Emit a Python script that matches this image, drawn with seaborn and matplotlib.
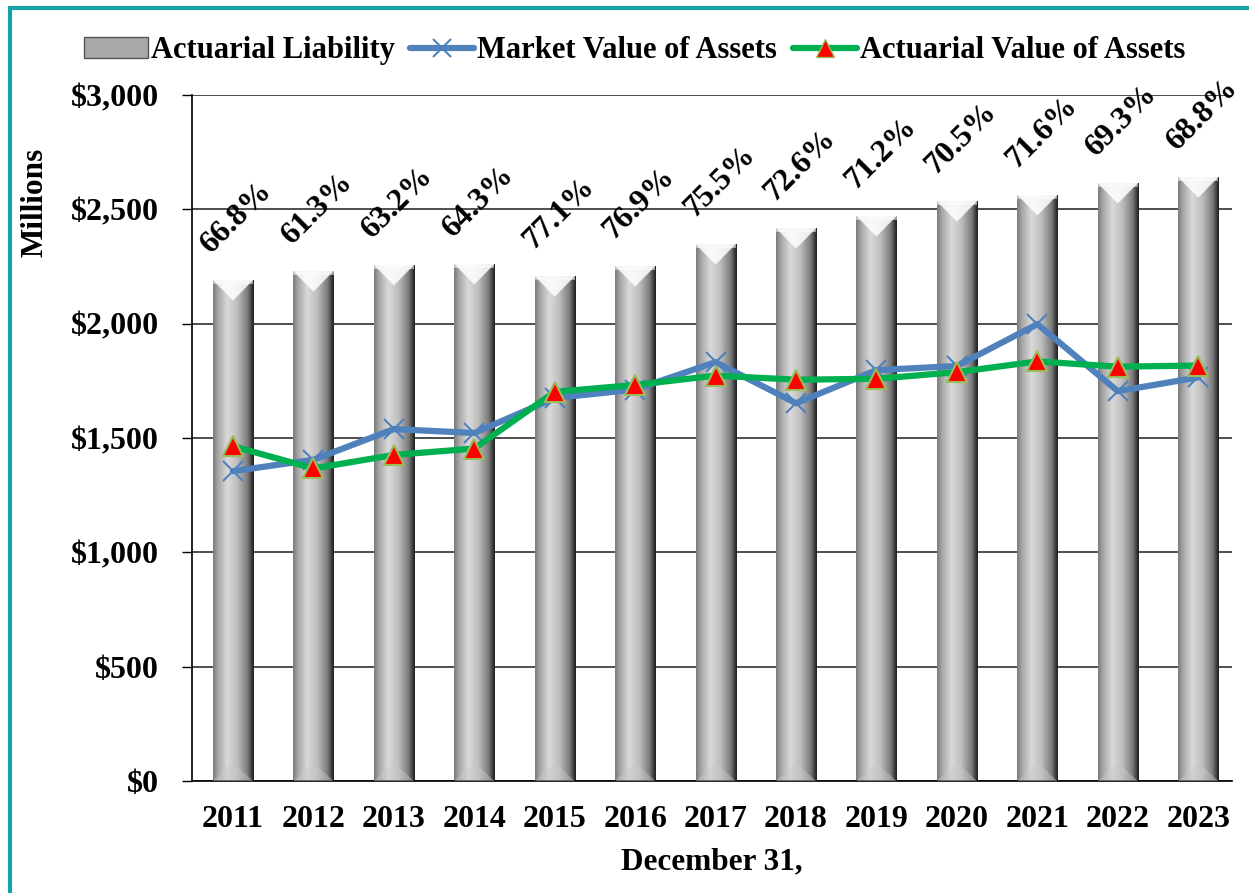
import numpy as np
import matplotlib
matplotlib.use("Agg")
import matplotlib.pyplot as plt
import seaborn as sns
from matplotlib.patches import Rectangle, Polygon
from matplotlib.lines import Line2D
from matplotlib.colors import LinearSegmentedColormap

# Values (millions)
years = ["2011", "2012", "2013", "2014", "2015", "2016", "2017",
         "2018", "2019", "2020", "2021", "2022", "2023"]
liability = [2191, 2230, 2257, 2261, 2208, 2252, 2348,
             2418, 2471, 2536, 2563, 2615, 2641]
market_value = [1355, 1405, 1539, 1522, 1675, 1712, 1832,
                1652, 1797, 1815, 1998, 1705, 1765]
actuarial_value = [1464, 1367, 1426, 1454, 1702, 1732, 1773,
                   1755, 1759, 1788, 1835, 1812, 1817]
funded_ratio = ["66.8%", "61.3%", "63.2%", "64.3%", "77.1%", "76.9%", "75.5%",
                "72.6%", "71.2%", "70.5%", "71.6%", "69.3%", "68.8%"]

sns.set_style("white")
plt.rcParams['font.family'] = ['Liberation Serif', 'DejaVu Serif']
plt.rcParams['font.weight'] = 'bold'
plt.rcParams['text.color'] = 'black'
plt.rcParams['axes.labelcolor'] = 'black'
plt.rcParams['xtick.color'] = 'black'
plt.rcParams['ytick.color'] = 'black'

fig = plt.figure(figsize=(12.49, 8.93), dpi=100)
ax = fig.add_axes([0.1537, 0.1254, 0.8327, 0.7682])

# bars
sns.barplot(x=years, y=liability, color="#a8a8a8", width=0.5, ax=ax,
            edgecolor="none", zorder=2)

# cylinder shading on each bar
cmap = LinearSegmentedColormap.from_list(
    "cyl", [(0.0, "#7a7a7a"), (0.12, "#a6a6a6"), (0.35, "#dadada"),
            (0.6, "#bdbdbd"), (0.85, "#7a7a7a"), (0.95, "#3a3a3a"), (1.0, "#1e1e1e")])
grad = np.linspace(0, 1, 256).reshape(1, -1)
for p in list(ax.patches):
    x0, w, h = p.get_x(), p.get_width(), p.get_height()
    im = ax.imshow(grad, cmap=cmap, aspect="auto", extent=[x0, x0 + w, 0, h],
                   zorder=2.5, origin="lower")
    im.set_clip_path(p)
    # bevel highlight at the top
    d = 90
    tri = Polygon([[x0, h], [x0 + w, h], [x0 + w / 2, h - d]],
                  closed=True, facecolor="white", alpha=0.85, edgecolor="none", zorder=2.6)
    ax.add_patch(tri)
    band = Rectangle((x0, h - 18), w, 18, facecolor="#e8e8e8", alpha=0.6,
                     edgecolor="none", zorder=2.55)
    ax.add_patch(band)
    # softer bevel at the bottom
    tri_b = Polygon([[x0, 0], [x0 + w, 0], [x0 + w / 2, d * 0.9]],
                    closed=True, facecolor="#c8c8c8", alpha=0.45, edgecolor="none", zorder=2.6)
    ax.add_patch(tri_b)

xs = np.arange(len(years))
ax.plot(xs, market_value, color="#4F81BD", lw=4.5, marker="x", markersize=14,
        markeredgewidth=1.5, zorder=4)
ax.plot(xs, actuarial_value, color="#00B050", lw=4.5, marker="^", markersize=14,
        markerfacecolor="#FF0000", markeredgecolor="#9BBB59", markeredgewidth=1.5, zorder=5)

# funded ratio labels
for i, (v, lab) in enumerate(zip(liability, funded_ratio)):
    ax.annotate(lab, (i, v), xytext=(3, 15), textcoords="offset points",
                ha="center", va="bottom", rotation=45, fontsize=23,
                fontweight="bold", zorder=6)

ax.set_xlim(-0.51, 12.42)
ax.set_ylim(0, 3000)
ax.set_yticks(range(0, 3001, 500))
ax.set_yticklabels(["${:,}".format(v) for v in range(0, 3001, 500)])
ax.yaxis.grid(True, color="#303030", lw=1.2, zorder=0)
ax.set_axisbelow(True)
for s in ["top", "right"]:
    ax.spines[s].set_visible(False)
ax.spines["left"].set_color("black")
ax.spines["bottom"].set_color("black")
ax.spines["left"].set_linewidth(1.2)
ax.spines["bottom"].set_linewidth(1.2)
ax.tick_params(axis="y", direction="out", length=7, width=1, pad=17, labelsize=23, left=True)
ax.tick_params(axis="x", length=0, pad=17, labelsize=23)
for t in ax.get_xticklabels() + ax.get_yticklabels():
    t.set_fontweight("bold")

ax.set_xlabel("December 31,", fontsize=22.5, fontweight="bold", labelpad=10)
ax.set_ylabel("Millions", fontsize=22.5, fontweight="bold")
ax.yaxis.set_label_coords(-0.137, 0.843)

handles = [
    Rectangle((0, 0), 1, 1, facecolor="#a8a8a8", edgecolor="#555555"),
    Line2D([], [], color="#4F81BD", lw=4.5, marker="x", markersize=13, markeredgewidth=1.5),
    Line2D([], [], color="#00B050", lw=4.5, marker="^", markersize=13,
           markerfacecolor="#FF0000", markeredgecolor="#9BBB59"),
]
fig.legend(handles, ["Actuarial Liability", "Market Value of Assets", "Actuarial Value of Assets"],
           loc="upper center", bbox_to_anchor=(0.508, 0.99), ncol=3, frameon=False,
           prop={"size": 22, "weight": "bold"}, handlelength=2.1, handletextpad=0.1,
           columnspacing=0.5)

# outer teal frame
fig.patches.append(Rectangle((0.008, -0.05), 1.02, 1.041, transform=fig.transFigure,
                             fill=False, edgecolor="#17A2A8", lw=3))

fig.savefig("out.png", dpi=100)
